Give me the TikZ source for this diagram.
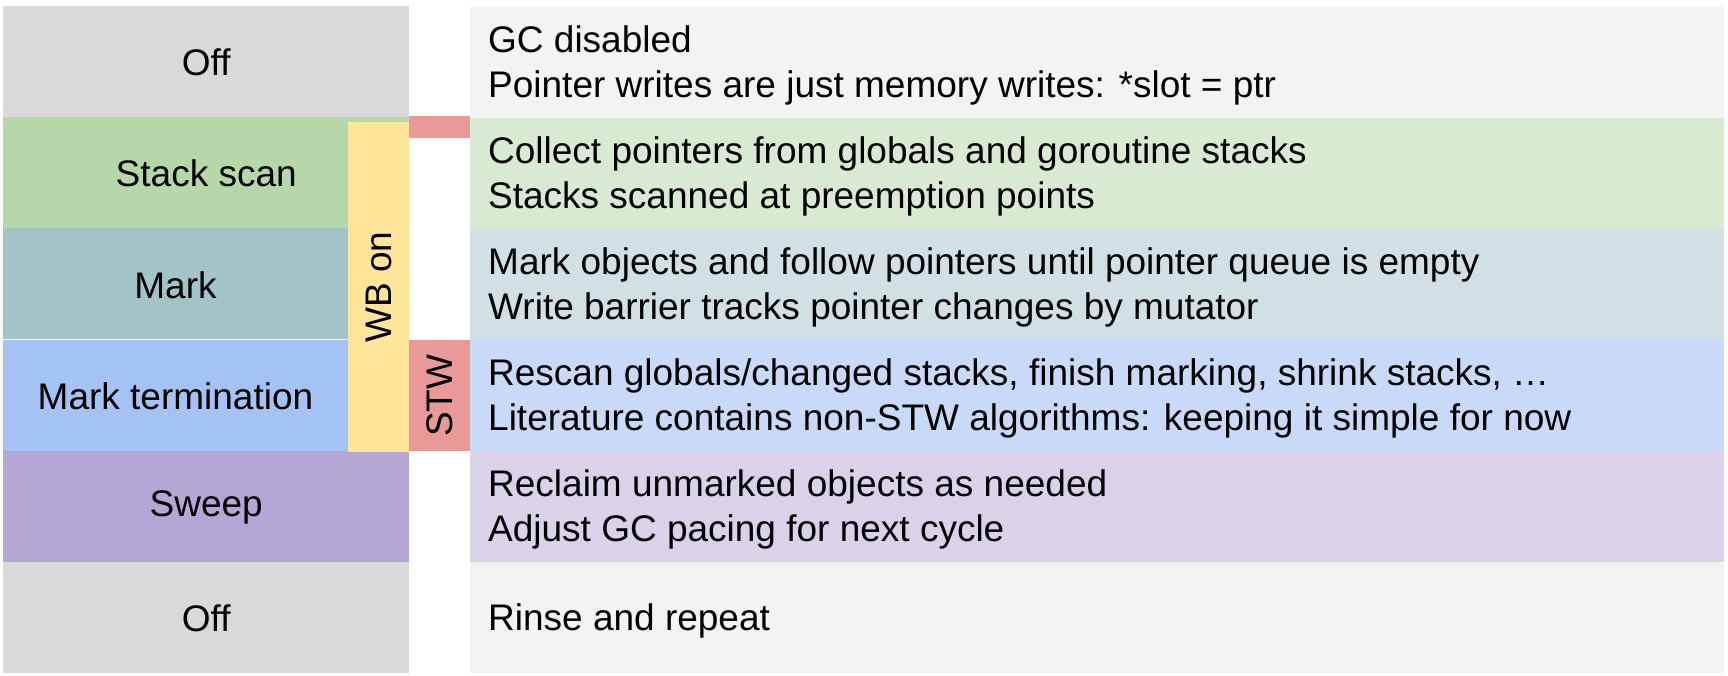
\documentclass[tikz,border=0pt]{standalone}
\usepackage{fontspec}
\setmainfont{Liberation Sans}
\definecolor{cOff}{HTML}{D9D9D9}
\definecolor{cStack}{HTML}{B6D7A8}
\definecolor{cMark}{HTML}{A2C4C9}
\definecolor{cTerm}{HTML}{A4C2F4}
\definecolor{cSweep}{HTML}{B4A7D6}
\definecolor{cWB}{HTML}{FFE599}
\definecolor{cSTW}{HTML}{EA9999}
\definecolor{lOff}{HTML}{F3F3F3}
\definecolor{lStack}{HTML}{D9EAD3}
\definecolor{lMark}{HTML}{D0E0E3}
\definecolor{lTerm}{HTML}{C9DAF8}
\definecolor{lSweep}{HTML}{D9D2E9}
\tikzset{
  phase/.style={draw=none, inner sep=0pt, anchor=north west, minimum width=406pt, minimum height=111pt},
  desc/.style={draw=none, inner sep=0pt, anchor=north west, minimum width=1254pt, minimum height=111pt},
  txt/.style={inner sep=0pt, font=\fontsize{37}{45}\selectfont, text=black},
  desctxt/.style={txt, anchor=west, align=left},
}
\begin{document}
\begin{tikzpicture}[x=1pt,y=1pt]
\useasboundingbox (0,0) rectangle (1728,-676);
% left column
\node[phase, fill=cOff]   (p1) at (3,-6) {};
\node[phase, fill=cStack] (p2) at (3,-117) {};
\node[phase, fill=cMark]  (p3) at (3,-228) {};
\node[phase, fill=cTerm]  (p4) at (3,-340) {};
\node[phase, fill=cSweep] (p5) at (3,-451) {};
\node[phase, fill=cOff]   (p6) at (3,-562) {};
% right column
\node[desc, fill=lOff]   (d1) at (470,-7) {};
\node[desc, fill=lStack] (d2) at (470,-118) {};
\node[desc, fill=lMark]  (d3) at (470,-229) {};
\node[desc, fill=lTerm]  (d4) at (470,-340) {};
\node[desc, fill=lSweep] (d5) at (470,-451) {};
\node[desc, fill=lOff]   (d6) at (470,-562) {};
% overlays
\node[draw=none, fill=cWB, inner sep=0pt, anchor=north west, minimum width=61pt, minimum height=330pt] (wb) at (348,-122) {};
\node[draw=none, fill=cSTW, inner sep=0pt, anchor=north west, minimum width=61pt, minimum height=22pt] (stwa) at (409,-116) {};
\node[draw=none, fill=cSTW, inner sep=0pt, anchor=north west, minimum width=61pt, minimum height=111pt] (stwb) at (409,-340) {};
\node[txt, rotate=90] (wbt) at (wb.center) {WB on};
\node[txt, rotate=90] (stwt) at (stwb.center) {STW};
% left labels
\node[txt] (l1) at ([yshift=-1pt]p1.center) {Off};
\node[txt] (l2) at ([yshift=-1pt]p2.center) {Stack scan};
\node[txt] (l3) at (175.5,-285) {Mark};
\node[txt] (l4) at (175.5,-396.5) {Mark termination};
\node[txt] (l5) at ([yshift=-1pt]p5.center) {Sweep};
\node[txt] (l6) at ([yshift=-1pt]p6.center) {Off};
% right texts
\node[desctxt] (t1) at ([xshift=18pt,yshift=-3pt]d1.west) {GC disabled\\Pointer writes are just memory writes: *slot = ptr};
\node[desctxt] (t2) at ([xshift=18pt,yshift=-3pt]d2.west) {Collect pointers from globals and goroutine stacks\\Stacks scanned at preemption points};
\node[desctxt] (t3) at ([xshift=18pt,yshift=-3pt]d3.west) {Mark objects and follow pointers until pointer queue is empty\\Write barrier tracks pointer changes by mutator};
\node[desctxt] (t4) at ([xshift=18pt,yshift=-3pt]d4.west) {Rescan globals/changed stacks, finish marking, shrink stacks, …\\Literature contains non-STW algorithms: keeping it simple for now};
\node[desctxt] (t5) at ([xshift=18pt,yshift=-3pt]d5.west) {Reclaim unmarked objects as needed\\Adjust GC pacing for next cycle};
\node[desctxt] (t6) at ([xshift=18pt,yshift=-3pt]d6.west) {Rinse and repeat};
\end{tikzpicture}
\end{document}
